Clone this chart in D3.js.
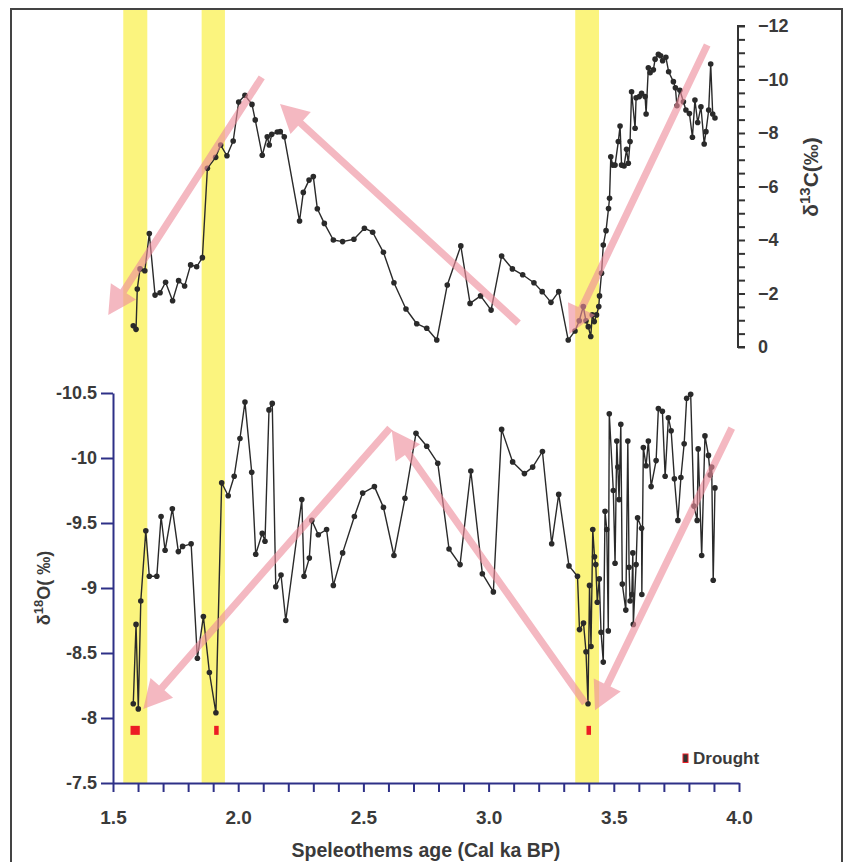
<!DOCTYPE html>
<html>
<head>
<meta charset="utf-8">
<script src="https://cdn.jsdelivr.net/npm/d3@7"></script>
<style>
  html, body { margin: 0; padding: 0; background: #fff; }
  svg { display: block; font-family: "Liberation Sans", Arial, Helvetica, sans-serif; }
</style>
</head>
<body>
<svg id="chart" width="845" height="862"></svg>
<script>
// ---- Speleothem carbon isotope record (age in cal ka BP, δ13C in ‰) ----
const ages13 = [1.581,1.592,1.597,1.608,1.627,1.645,1.668,1.688,1.710,1.738,1.762,1.786,1.810,1.834,1.857,1.877,1.910,1.930,1.955,1.980,
  2.002,2.027,2.055,2.068,2.096,2.116,2.124,2.134,2.156,2.168,2.184,2.245,2.260,2.283,2.300,2.316,2.344,2.380,2.417,2.462,
  2.504,2.537,2.580,2.622,2.670,2.713,2.753,2.793,2.835,2.889,2.926,2.968,3.010,3.052,3.095,3.136,3.181,3.214,3.249,3.280,
  3.318,3.345,3.362,3.378,3.389,3.398,3.408,3.414,3.422,3.431,3.440,3.443,3.451,3.458,3.469,3.479,3.483,3.488,3.496,3.505,
  3.518,3.525,3.531,3.541,3.551,3.558,3.565,3.571,3.585,3.589,3.602,3.611,3.625,3.629,3.638,3.645,3.658,3.665,3.678,3.687,
  3.695,3.708,3.719,3.738,3.746,3.752,3.764,3.778,3.788,3.802,3.814,3.824,3.835,3.848,3.861,3.868,3.879,3.887,3.895,3.904];
const d13C = [-0.79,-0.66,-2.17,-2.92,-2.85,-4.24,-1.94,-2.03,-2.42,-1.73,-2.48,-2.28,-3.07,-3.00,-3.34,-6.68,-7.09,-7.55,-7.15,-7.70,
  -9.16,-9.41,-9.07,-8.49,-7.17,-7.86,-7.55,-7.95,-8.04,-8.05,-7.86,-4.71,-5.78,-6.24,-6.37,-5.17,-4.62,-4.00,-3.94,-4.03,
  -4.44,-4.29,-3.54,-2.40,-1.42,-0.87,-0.70,-0.26,-2.32,-3.78,-1.63,-1.91,-1.38,-3.40,-2.92,-2.70,-2.40,-2.07,-1.67,-2.07,
  -0.26,-0.60,-0.98,-1.51,-0.98,-0.76,-0.39,-1.20,-0.95,-1.20,-1.51,-1.91,-2.76,-3.81,-4.35,-5.18,-5.56,-7.11,-6.80,-6.80,
  -7.68,-8.26,-6.80,-6.77,-7.39,-6.87,-7.68,-9.54,-8.18,-9.32,-9.36,-9.48,-9.36,-8.71,-10.44,-10.25,-10.36,-10.76,-10.94,-10.89,
  -10.70,-10.83,-10.29,-9.92,-9.69,-9.02,-9.60,-9.17,-8.86,-8.73,-7.84,-9.23,-8.39,-8.98,-7.59,-8.05,-8.86,-10.58,-8.71,-8.56];

// ---- Speleothem oxygen isotope record (age in cal ka BP, δ18O in ‰) ----
const ages18 = [1.581,1.592,1.601,1.611,1.631,1.645,1.675,1.692,1.708,1.737,1.761,1.778,1.812,1.837,1.861,1.885,1.911,1.934,1.960,1.984,
  2.007,2.027,2.054,2.070,2.096,2.107,2.123,2.136,2.150,2.171,2.190,2.254,2.263,2.284,2.294,2.320,2.353,2.380,2.417,2.464,
  2.497,2.544,2.580,2.622,2.666,2.710,2.753,2.797,2.842,2.886,2.929,2.975,3.019,3.052,3.096,3.143,3.176,3.215,3.252,3.280,
  3.321,3.355,3.363,3.379,3.389,3.397,3.403,3.409,3.416,3.423,3.428,3.434,3.442,3.449,3.458,3.465,3.472,3.478,3.482,3.498,
  3.505,3.512,3.516,3.521,3.528,3.534,3.548,3.556,3.561,3.565,3.572,3.576,3.578,3.589,3.595,3.611,3.612,3.618,3.629,3.638,
  3.649,3.669,3.678,3.694,3.705,3.718,3.729,3.742,3.756,3.768,3.781,3.791,3.807,3.820,3.833,3.837,3.851,3.864,3.878,3.885,
  3.891,3.897,3.904];
const d18O = [-8.11,-8.72,-8.07,-8.90,-9.44,-9.09,-9.09,-9.55,-9.29,-9.61,-9.28,-9.32,-9.34,-8.46,-8.78,-8.35,-8.04,-9.81,-9.71,-9.86,
  -10.15,-10.43,-9.89,-9.26,-9.42,-9.36,-10.37,-10.42,-9.01,-9.10,-8.75,-9.68,-9.09,-9.23,-9.52,-9.41,-9.45,-9.02,-9.27,-9.55,
  -9.73,-9.78,-9.62,-9.25,-9.69,-10.19,-10.09,-9.96,-9.30,-9.18,-9.90,-9.11,-8.97,-10.22,-9.97,-9.88,-9.93,-10.05,-9.34,-9.72,
  -9.17,-9.09,-8.68,-8.73,-8.51,-8.11,-9.02,-8.55,-9.45,-9.24,-9.18,-8.89,-9.07,-8.66,-8.43,-9.59,-9.45,-8.67,-10.34,-9.75,
  -9.19,-10.13,-9.93,-9.68,-10.26,-9.03,-8.83,-10.13,-9.16,-8.90,-8.95,-9.27,-8.72,-9.18,-9.54,-9.46,-8.95,-10.08,-9.94,-10.13,
  -9.78,-9.98,-10.38,-10.36,-9.86,-10.31,-10.21,-9.84,-9.52,-9.85,-10.11,-10.46,-10.49,-9.63,-9.52,-10.07,-9.25,-10.17,-10.02,-9.87,
  -9.93,-9.06,-9.77];

// ---- Highlighted intervals (cal ka BP) ----
const bandStart = [1.541, 1.854, 3.346];
const bandEnd   = [1.637, 1.947, 3.441];

// ---- Drought events: age span and the δ18O level where they are marked ----
const droughtStart = [1.570, 1.904, 3.391];
const droughtEnd   = [1.607, 1.922, 3.409];
const droughtLevel = -7.905;

// ---- Trend arrows (tail -> head) ----
const trend13TailAge = [2.094, 3.119, 3.873];
const trend13TailVal = [-10.08, -0.89, -11.29];
const trend13HeadAge = [1.481, 2.167, 3.323];
const trend13HeadVal = [-1.20, -9.08, -0.49];

const trend18TailAge = [2.606, 3.385, 3.971];
const trend18TailVal = [-10.23, -8.115, -10.23];
const trend18HeadAge = [1.621, 2.613, 3.425];
const trend18HeadVal = [-8.07, -10.215, -8.06];

// ---- Axis ticks ----
const xTicks = d3.range(15, 41).map(v => v / 10);
const xLabels = [1.5, 2.0, 2.5, 3.0, 3.5, 4.0];
const y13Ticks = d3.range(0, 25).map(v => -v / 2);
const y13Labels = [0, -2, -4, -6, -8, -10, -12];
const y18Ticks = [-7.5, -8, -8.5, -9, -9.5, -10, -10.5];

const svg = d3.select("#chart");
const textColor = "#3a3a3a";
const axisBlue = "#2e3087";
const bandColor = "#fbf47e";
const arrowColor = "#ee8d9b";

const x = d3.scaleLinear().domain([1.5, 4.0]).range([113, 739]);
const y13 = d3.scaleLinear().domain([0, -12]).range([347, 26]);
const y18 = d3.scaleLinear().domain([-7.5, -10.5]).range([783, 393]);

// outer frame
svg.append("rect")
  .attr("x", 11).attr("y", 9).attr("width", 831).attr("height", 880)
  .attr("fill", "none").attr("stroke", "#444").attr("stroke-width", 2);

// highlighted intervals
svg.append("g").selectAll("rect").data(bandStart).join("rect")
  .attr("x", (d, i) => x(d))
  .attr("width", (d, i) => x(bandEnd[i]) - x(d))
  .attr("y", 10)
  .attr("height", y18(-7.5) - 10)
  .attr("fill", bandColor);

// series drawing helper
function drawSeries(ages, vals, yScale) {
  const pts = ages.map((a, i) => [a, vals[i]]);
  const g = svg.append("g");
  g.append("path")
    .attr("d", d3.line().x(d => x(d[0])).y(d => yScale(d[1]))(pts))
    .attr("fill", "none").attr("stroke", "#2a2a2a").attr("stroke-width", 1.4)
    .attr("stroke-linejoin", "round");
  g.selectAll("circle").data(pts).join("circle")
    .attr("cx", d => x(d[0])).attr("cy", d => yScale(d[1]))
    .attr("r", 2.8).attr("fill", "#2a2a2a");
}
drawSeries(ages13, d13C, y13);
drawSeries(ages18, d18O, y18);

// top axis (δ13C, right side)
const axis13 = d3.axisRight(y13).tickValues(y13Ticks).tickSize(7).tickPadding(13)
  .tickFormat(d => y13Labels.includes(d) ? d3.format("d")(d) : "");
const g13 = svg.append("g").attr("transform", "translate(738,0)").call(axis13);
g13.select(".domain").attr("d", `M7,${y13(0)}H0V${y13(-12)}H7`).attr("stroke", "#333").attr("stroke-width", 2);
g13.selectAll(".tick line").attr("stroke", "#333").attr("stroke-width", 2);
g13.selectAll(".tick text").attr("fill", textColor).attr("font-size", 18).attr("font-weight", "bold")
  .attr("font-family", "'Liberation Sans', Arial, sans-serif");

// bottom-left axis (δ18O)
const axis18 = d3.axisLeft(y18).tickValues(y18Ticks).tickSize(12).tickSizeOuter(0).tickPadding(4)
  .tickFormat(d => String(d));
const g18 = svg.append("g").attr("transform", "translate(113,0)").call(axis18);
g18.select(".domain").attr("stroke", axisBlue).attr("stroke-width", 2);
g18.selectAll(".tick line").attr("stroke", axisBlue).attr("stroke-width", 2);
g18.selectAll(".tick text").attr("fill", textColor).attr("font-size", 18).attr("font-weight", "bold")
  .attr("font-family", "'Liberation Sans', Arial, sans-serif");

// x axis
const axisX = d3.axisBottom(x).tickValues(xTicks).tickSize(9).tickSizeOuter(0).tickPadding(19)
  .tickFormat(d => xLabels.some(v => Math.abs(v - d) < 1e-9) ? d3.format(".1f")(d) : "");
const gx = svg.append("g").attr("transform", "translate(0,783)").call(axisX);
gx.select(".domain").attr("stroke", axisBlue).attr("stroke-width", 2);
gx.selectAll(".tick line").attr("stroke", axisBlue).attr("stroke-width", 2);
gx.selectAll(".tick text").attr("fill", textColor).attr("font-size", 19).attr("font-weight", "bold")
  .attr("font-family", "'Liberation Sans', Arial, sans-serif");

// axis titles
svg.append("text")
  .attr("x", 426).attr("y", 857).attr("text-anchor", "middle")
  .attr("font-size", 19.5).attr("font-weight", "bold").attr("fill", textColor)
  .text("Speleothems age (Cal ka BP)");

const t13 = svg.append("text")
  .attr("transform", "translate(818,177) rotate(-90)").attr("text-anchor", "middle")
  .attr("font-size", 21).attr("font-weight", "bold").attr("fill", textColor);
t13.append("tspan").text("δ");
t13.append("tspan").attr("dy", -8).attr("font-size", 15).text("13");
t13.append("tspan").attr("dy", 8).text("C(‰)");

const t18 = svg.append("text")
  .attr("transform", "translate(50,588) rotate(-90)").attr("text-anchor", "middle")
  .attr("font-size", 18).attr("font-weight", "bold").attr("fill", textColor);
t18.append("tspan").text("δ");
t18.append("tspan").attr("dy", -7).attr("font-size", 13).text("18");
t18.append("tspan").attr("dy", 7).text("O( ‰)");

// trend arrows
function arrowPolygon(x0, y0, x1, y1) {
  const dx = x1 - x0, dy = y1 - y0, len = Math.hypot(dx, dy);
  const ux = dx / len, uy = dy / len, nx = -uy, ny = ux;
  const hw = 3.6, headLen = 28, headHalf = 15;
  const bx = x1 - ux * headLen, by = y1 - uy * headLen;
  return [
    [x0 + nx * hw, y0 + ny * hw], [bx + nx * hw, by + ny * hw],
    [bx + nx * headHalf, by + ny * headHalf], [x1, y1],
    [bx - nx * headHalf, by - ny * headHalf], [bx - nx * hw, by - ny * hw],
    [x0 - nx * hw, y0 - ny * hw]
  ];
}
const arrows = [];
trend13TailAge.forEach((a, i) => arrows.push(arrowPolygon(x(a), y13(trend13TailVal[i]), x(trend13HeadAge[i]), y13(trend13HeadVal[i]))));
trend18TailAge.forEach((a, i) => arrows.push(arrowPolygon(x(a), y18(trend18TailVal[i]), x(trend18HeadAge[i]), y18(trend18HeadVal[i]))));
svg.append("g").selectAll("polygon").data(arrows).join("polygon")
  .attr("points", d => d.map(p => p.join(",")).join(" "))
  .attr("fill", arrowColor).attr("fill-opacity", 0.62);

// drought markers
svg.append("g").selectAll("rect").data(droughtStart).join("rect")
  .attr("x", d => x(d))
  .attr("width", (d, i) => x(droughtEnd[i]) - x(d))
  .attr("y", y18(droughtLevel) - 4.5)
  .attr("height", 9)
  .attr("fill", "#ec1c24");

// legend
svg.append("rect").attr("x", 683).attr("y", 754).attr("width", 5).attr("height", 8.5)
  .attr("fill", "#333").attr("stroke", "#ec1c24").attr("stroke-width", 1);
svg.append("text").attr("x", 693).attr("y", 764)
  .attr("font-size", 17).attr("font-weight", "bold").attr("fill", textColor)
  .text("Drought");
</script>
</body>
</html>
